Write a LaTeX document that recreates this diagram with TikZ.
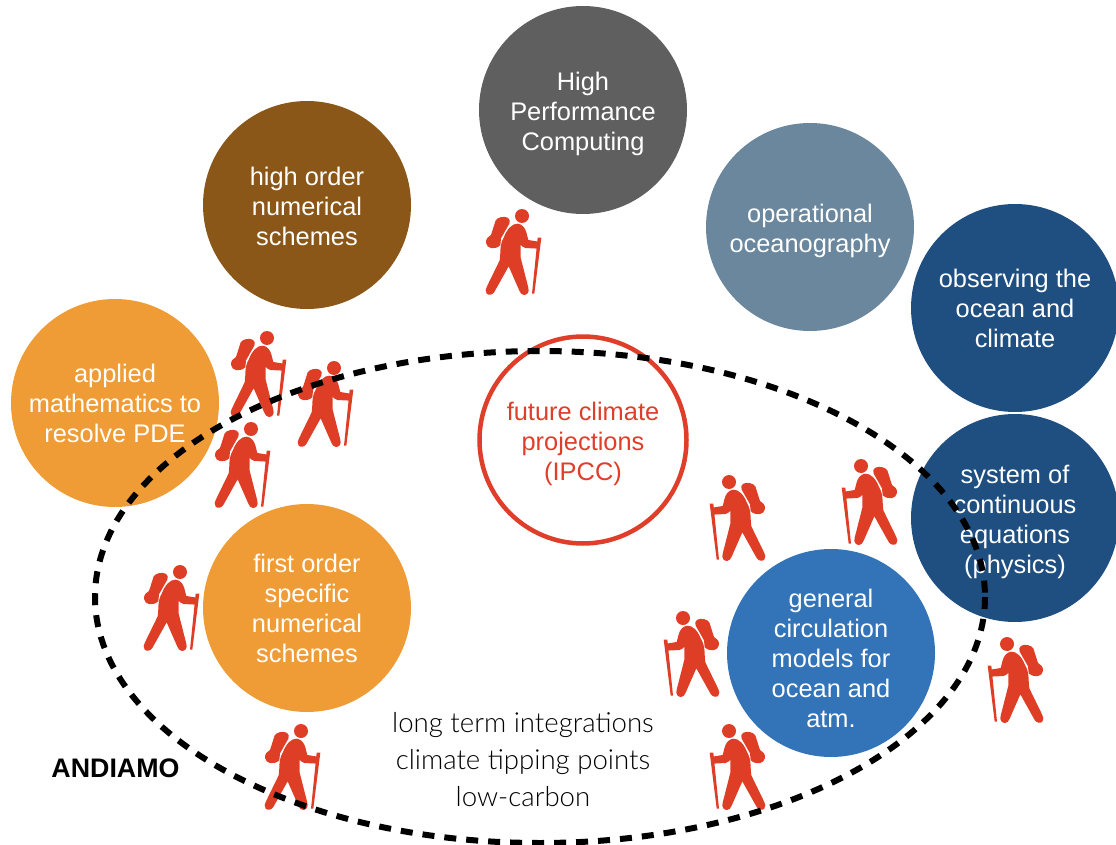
\documentclass[tikz,border=0pt]{standalone}
\usepackage{fontspec}
\setmainfont{Liberation Sans}
\newfontfamily\lightfont{Lato Light}
\newcommand{\dropby}[1]{\rule{0pt}{\dimexpr 18.5pt+2\dimexpr #1pt\relax\relax}}
\definecolor{hikered}{HTML}{DF3E26}
\definecolor{hpcgray}{HTML}{5F5F5F}
\definecolor{brownc}{HTML}{8A5719}
\definecolor{opblue}{HTML}{6A879E}
\definecolor{navyc}{HTML}{1F4E80}
\definecolor{orangec}{HTML}{F09C36}
\definecolor{gcmblue}{HTML}{3373B7}
\definecolor{futred}{HTML}{DF3E2B}
\tikzset{
  x=1pt,y=-1pt,
  bubble/.style={circle,minimum size=208pt,inner sep=0pt,align=center,text=white,
    font=\fontsize{25.4}{30}\selectfont},
  hiker/.pic={
    \begin{scope}[scale=0.3333,shift={(-155,-47)}]
    \fill[hikered] (155,47) circle[radius=21];
    % backpack
    \fill[hikered] (76,60) .. controls (80,52) and (100,46) .. (112,52)
      .. controls (119,56) and (120,62) .. (117,70) -- (92,114) -- (90,135)
      .. controls (72,150) and (50,145) .. (47,128)
      .. controls (46,115) and (54,108) .. (62,104) -- cycle;
    % body
    \fill[hikered] (101,110) .. controls (110,86) and (126,69) .. (142,70)
      .. controls (156,71) and (165,84) .. (168,96)
      -- (174,119) -- (205,124) -- (205,145) -- (165,143)
      .. controls (158,141) and (154,137) .. (151,133)
      -- (151,172) -- (174,262)
      .. controls (178,276) and (170,284) .. (161,284)
      .. controls (154,284) and (150,278) .. (147,271)
      -- (115,198) -- (72,275)
      .. controls (66,284) and (55,286) .. (49,280)
      .. controls (44,273) and (46,266) .. (49,260)
      -- (88,180) .. controls (92,160) and (86,135) .. (101,110) -- cycle;
    % pole
    \fill[hikered] (202,112) -- (213,112) -- (192,280) -- (185,280) -- cycle;
    \end{scope}
  },
  dashring/.style={draw=black,line width=6pt,dash pattern=on 12pt off 10pt},
}
\begin{document}
\begin{tikzpicture}
\useasboundingbox (0,0) rectangle (1116,845);

\node[bubble,fill=hpcgray] (hpc) at (583,110) {\dropby{4}High\\Performance\\Computing};
\node[bubble,fill=brownc] (high) at (307,205) {\dropby{1.2}high order\\numerical\\schemes};
\node[bubble,fill=opblue] (oper) at (810,227) {\dropby{4}operational\\oceanography};
\node[bubble,fill=navyc] (obs) at (1015,308) {\dropby{0.4}observing the\\ocean and\\climate};
\node[bubble,fill=navyc] (sys) at (1015,518) {\dropby{4}system of\\continuous\\equations\\(physics)};
\node[bubble,fill=orangec] (appl) at (115,403) {\dropby{0.4}applied\\mathematics to\\resolve PDE};
\node[bubble,fill=orangec] (first) at (307,608) {\dropby{0.5}first order\\specific\\numerical\\schemes};
\node[bubble,fill=gcmblue] (gcm) at (831,653) {\dropby{5.2}general\\circulation\\models for\\ocean and\\atm.};
\node[bubble,draw=futred,line width=4.5pt,fill=white,text=futred,minimum size=207pt] (fut) at (583,440) {\dropby{4}future climate\\projections\\(IPCC)};

\pic at (522,216) {hiker};
\pic at (267,338) {hiker};
\pic at (334,368) {hiker};
\pic at (251,429) {hiker};
\pic at (180,572) {hiker};
\pic at (301,731) {hiker};
\pic[xscale=-1] at (729,482) {hiker};
\pic[xscale=-1] at (861,466) {hiker};
\pic[xscale=-1] at (683,618) {hiker};
\pic[xscale=-1] at (729,731) {hiker};
\pic[xscale=-1] at (1007,644) {hiker};

\node[align=center,inner sep=0pt,font=\lightfont\fontsize{27.6}{37}\selectfont] (long) at (523,760) {long term integrations\\climate tipping points\\low-carbon};
\node[inner sep=0pt,font=\bfseries\fontsize{26.8}{30}\selectfont] (andiamo) at (115.5,768) {ANDIAMO};

\draw[dashring] (540,597) ellipse[x radius=445,y radius=246];
\end{tikzpicture}
\end{document}
